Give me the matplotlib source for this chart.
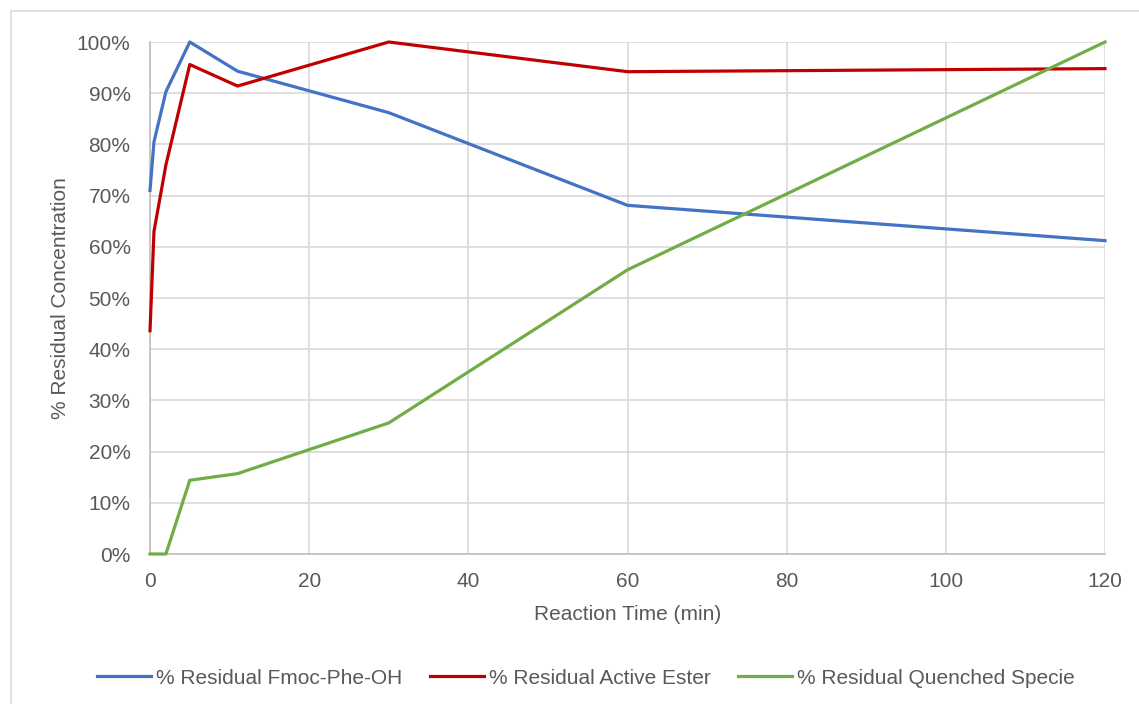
import matplotlib
matplotlib.use("Agg")
from matplotlib import pyplot as plt
from matplotlib.patches import Rectangle
from matplotlib.ticker import PercentFormatter

# reaction time points (min)
time_min = [0, 0.5, 2, 5, 11, 30, 60, 120]

# residual concentrations (%)
fmoc_phe_oh = [71.0, 80.5, 90.3, 100.0, 94.3, 86.2, 68.1, 61.2]
active_ester = [43.6, 63.0, 76.0, 95.6, 91.4, 100.0, 94.2, 94.8]
quenched_specie = [0.0, 0.0, 0.0, 14.4, 15.7, 25.6, 55.5, 100.0]

series_labels = [
    "% Residual Fmoc-Phe-OH",
    "% Residual Active Ester",
    "% Residual Quenched Specie",
]
series_colors = ["#4472C4", "#C00000", "#70AD47"]

text_color = "#595959"
grid_color = "#D9D9D9"
font_size = 15

plt.rcParams["font.family"] = ["Liberation Sans", "DejaVu Sans"]

fig = plt.figure(figsize=(11.39, 7.04), dpi=100)
fig.patch.set_facecolor("white")

# chart area border
fig.patches.append(Rectangle((11 / 1139, -0.05), 1.1, 1 - 11 / 704 + 0.05,
                             transform=fig.transFigure, fill=False,
                             edgecolor=grid_color, linewidth=1.2))

ax = fig.add_axes([150 / 1139, 1 - 554 / 704, 955 / 1139, 512 / 704])

for values, label, color in zip([fmoc_phe_oh, active_ester, quenched_specie],
                                series_labels, series_colors):
    ax.plot(time_min, values, color=color, linewidth=2.3, label=label,
            solid_joinstyle="round", clip_on=False, zorder=3)

ax.set_xlim(0, 120)
ax.set_ylim(0, 100)
ax.set_xticks(range(0, 121, 20))
ax.set_yticks(range(0, 101, 10))
ax.yaxis.set_major_formatter(PercentFormatter(decimals=0))

ax.grid(True, color=grid_color, linewidth=1.2)
ax.set_axisbelow(True)
for side in ["top", "right"]:
    ax.spines[side].set_visible(False)
for side in ["left", "bottom"]:
    ax.spines[side].set_color("#BFBFBF")
    ax.spines[side].set_linewidth(1.2)

ax.tick_params(length=0, labelsize=font_size, colors=text_color)
ax.tick_params(axis="y", pad=14)
ax.tick_params(axis="x", pad=13)
ax.set_xlabel("Reaction Time (min)", fontsize=font_size, color=text_color, labelpad=10)
ax.set_ylabel("% Residual Concentration", fontsize=font_size, color=text_color, labelpad=5)

fig.legend(loc="center", bbox_to_anchor=(586 / 1139, 1 - 678 / 704), ncol=3,
           frameon=False, fontsize=font_size, labelcolor=text_color,
           handlelength=2.6, handletextpad=0.25, columnspacing=1.3)

fig.savefig("out.png", dpi=100)
